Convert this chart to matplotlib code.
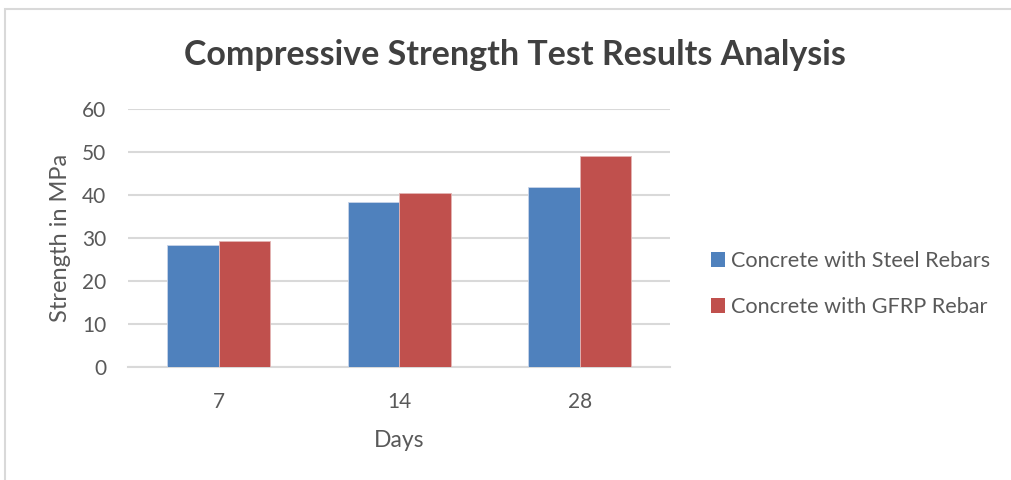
import matplotlib.pyplot as plt
import numpy as np
from matplotlib.patches import Rectangle

plt.rcParams['font.family'] = ['Lato', 'DejaVu Sans']

days = ['7', '14', '28']
steel = [28.3, 38.5, 41.9]
gfrp = [29.3, 40.5, 49.1]
series_names = ['Concrete with Steel Rebars', 'Concrete with GFRP Rebar']
colors = ['#4F81BD', '#C0504D']
text_gray = '#595959'

fig = plt.figure(figsize=(10.11, 4.8), dpi=100)
# outer chart border (light gray)
fig.patches.append(Rectangle((5 / 1011, -0.1), 1.2, 1 - 9 / 480 + 0.1,
                             transform=fig.transFigure, fill=False,
                             edgecolor='#D9D9D9', linewidth=1.5))

ax = fig.add_axes([128.3 / 1011, 1 - 367.3 / 480, (670 - 128.3) / 1011, (367.3 - 109) / 480])

x = np.arange(len(days))
w = 1 / 3.5  # gap width 150%
ax.bar(x - w / 2, steel, w, color=colors[0], edgecolor='#C8D4E8', linewidth=0.6,
       label=series_names[0], zorder=3)
ax.bar(x + w / 2, gfrp, w, color=colors[1], edgecolor='#E3B5B4', linewidth=0.6,
       label=series_names[1], zorder=3)

ax.set_xlim(-0.5, len(days) - 0.5)
ax.set_ylim(0, 60)
ax.set_yticks(range(0, 61, 10))
ax.set_xticks(x)
ax.set_xticklabels(days)
ax.yaxis.grid(True, color='#D9D9D9', linewidth=1.5, zorder=0)
ax.set_axisbelow(True)
for s in ['top', 'right', 'left']:
    ax.spines[s].set_visible(False)
ax.spines['bottom'].set_color('#D9D9D9')
ax.spines['bottom'].set_linewidth(1.5)
ax.tick_params(axis='both', length=0, labelsize=15, colors=text_gray)
ax.tick_params(axis='y', pad=16)
ax.tick_params(axis='x', pad=18)

ax.set_ylabel('Strength in MPa', fontsize=17, color=text_gray, labelpad=8)
ax.set_xlabel('Days', fontsize=16.5, color=text_gray, labelpad=13)

fig.text(515 / 1011, 1 - 55 / 480, 'Compressive Strength Test Results Analysis',
         ha='center', va='center', fontsize=24.5, fontweight='bold', color='#404040')

leg = fig.legend(loc='center left', bbox_to_anchor=(700 / 1011, 1 - 284 / 480),
                 frameon=False, fontsize=15.6, labelcolor=text_gray,
                 handlelength=0.64, handleheight=0.64, handletextpad=0.3,
                 labelspacing=1.2, borderpad=0)
for h in leg.legend_handles:
    h.set_edgecolor('none')

fig.savefig('out.png', dpi=100)
